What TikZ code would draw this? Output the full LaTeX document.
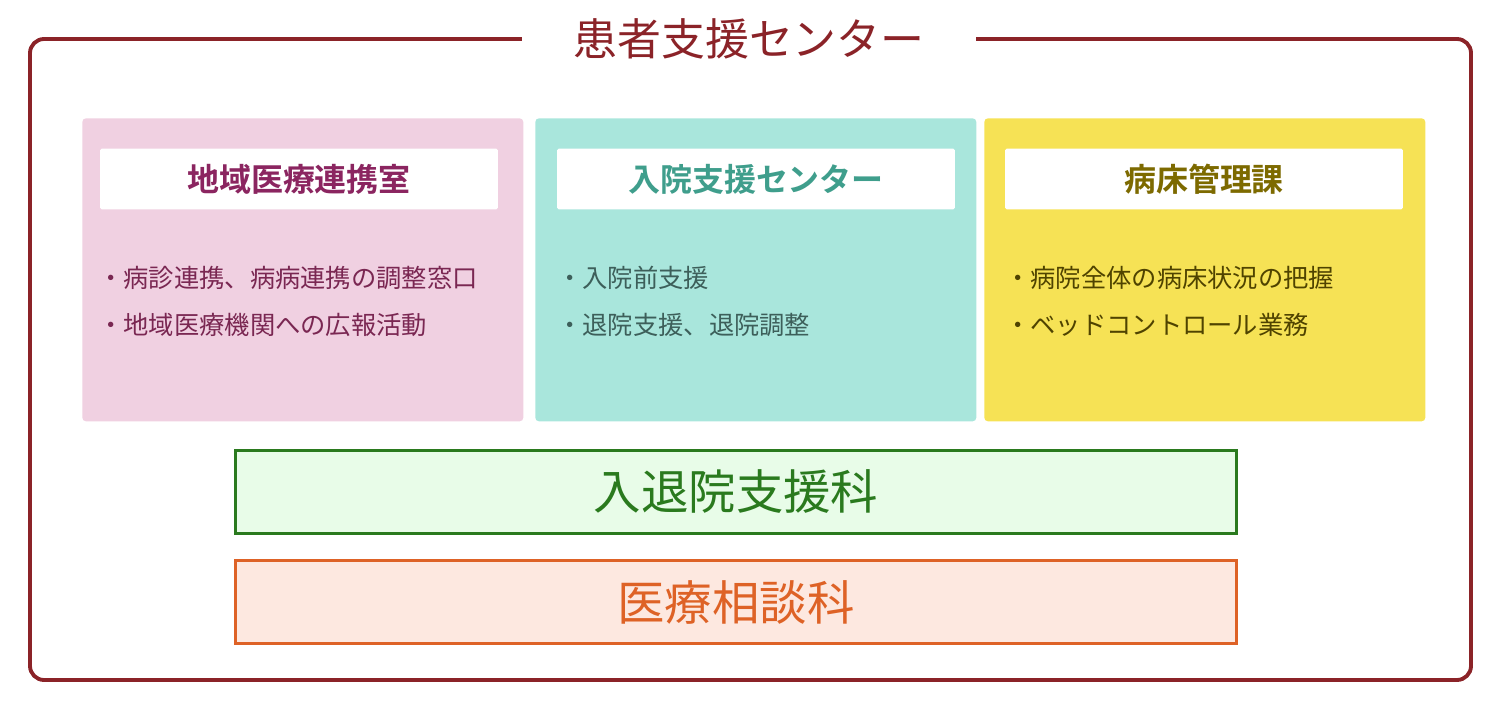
\documentclass[tikz,border=0pt]{standalone}
\usepackage{fontspec}
\setmainfont{Noto Sans CJK JP}
\newfontfamily\jpbold{Noto Sans CJK JP Bold}
\definecolor{frameRed}{HTML}{8B2328}
\definecolor{pinkBg}{HTML}{F0D0E1}
\definecolor{tealBg}{HTML}{A9E6DC}
\definecolor{yellowBg}{HTML}{F6E255}
\definecolor{pinkTxt}{HTML}{8B2560}
\definecolor{tealTxt}{HTML}{3F9E8C}
\definecolor{yellowTxt}{HTML}{7D6A00}
\definecolor{pinkItem}{HTML}{7A2752}
\definecolor{tealItem}{HTML}{3D5F5A}
\definecolor{yellowItem}{HTML}{4F4300}
\definecolor{greenLine}{HTML}{2A7A1E}
\definecolor{greenBg}{HTML}{E8FCE8}
\definecolor{orangeLine}{HTML}{DE6226}
\definecolor{orangeBg}{HTML}{FDE8E0}
\tikzset{
  panel/.style={minimum width=8.82cm,minimum height=6.06cm,anchor=north west,inner sep=0pt,rounded corners=2pt},
  header/.style={fill=white,rounded corners=1pt,minimum width=7.96cm,minimum height=1.22cm,font=\jpbold\fontsize{18.2}{20}\selectfont},
  item/.style={anchor=west,font=\fontsize{14.4}{16}\selectfont},
  section/.style={line width=1.7pt,minimum width=20.04cm,minimum height=1.66cm,font=\fontsize{27}{30}\selectfont},
}
\begin{document}
\begin{tikzpicture}[x=0.02cm,y=-0.02cm]
        \useasboundingbox (0,0) rectangle (1500,706);
        % Frame and title
        \draw[frameRed,line width=2.2pt,rounded corners=8pt] (30,39) rectangle (1471,680);
        \node[fill=white,minimum width=9.08cm,text=frameRed,font=\fontsize{25}{28}\selectfont] (title) at (749,39) {患者支援センター};
        % Panels
        \node[panel,fill=pinkBg] (pink) at (82,118) {};
        \node[panel,fill=tealBg] (teal) at (535,118) {};
        \node[panel,fill=yellowBg] (yellow) at (984,118) {};
        \node[header,text=pinkTxt] (pinkHead) at (299,179) {地域医療連携室};
        \node[header,text=tealTxt] (tealHead) at (756,179) {入院支援センター};
        \node[header,text=yellowTxt] (yellowHead) at (1204,179) {病床管理課};
        % Items
        \node[item,text=pinkItem] (pinkA) at (92,278) {・病診連携、病病連携の調整窓口};
        \node[item,text=pinkItem] (pinkB) at (92,325) {・地域医療機関への広報活動};
        \node[item,text=tealItem] (tealA) at (551,278) {・入院前支援};
        \node[item,text=tealItem] (tealB) at (551,325) {・退院支援、退院調整};
        \node[item,text=yellowItem] (yellowA) at (999,278) {・病院全体の病床状況の把握};
        \node[item,text=yellowItem] (yellowB) at (999,325) {・ベッドコントロール業務};
        % Sections
        \node[section,draw=greenLine,fill=greenBg,text=greenLine] (discharge) at (736,492) {入退院支援科};
        \node[section,draw=orangeLine,fill=orangeBg,text=orangeLine] (consult) at (736,602) {医療相談科};
\end{tikzpicture}
\end{document}
